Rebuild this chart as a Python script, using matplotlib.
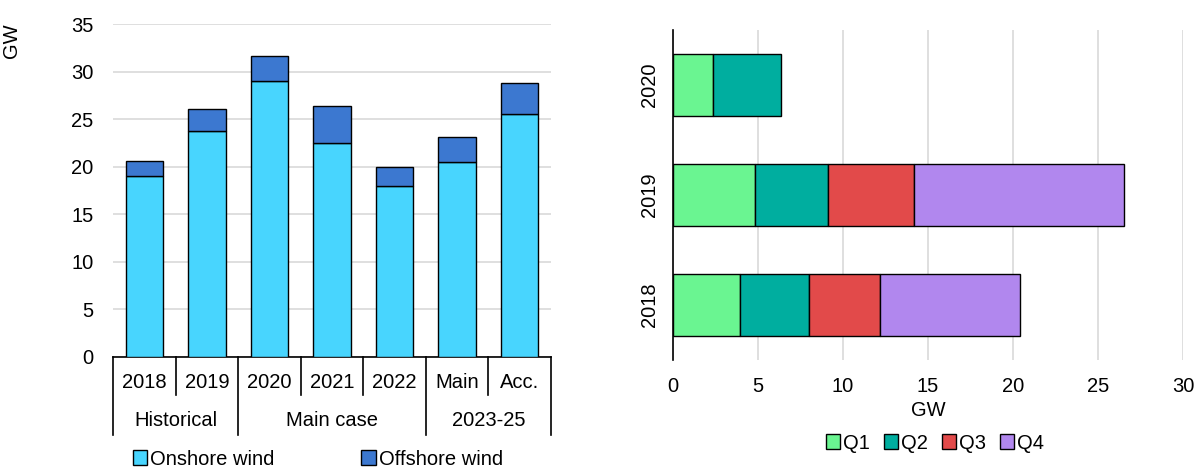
import matplotlib.pyplot as plt
import matplotlib.transforms as mtransforms
from matplotlib.patches import Patch

plt.rcParams['font.family'] = ['Liberation Sans', 'DejaVu Sans']
plt.rcParams['font.size'] = 14.5

# left chart data
categorias = ["2018", "2019", "2020", "2021", "2022", "Main", "Acc."]
grupos = ["Historical", "Main case", "2023-25"]
limites_grupos = [0, 2, 5, 7]
onshore = [19.0, 23.8, 29.0, 22.5, 18.0, 20.5, 25.5]
offshore = [1.6, 2.3, 2.6, 3.9, 2.0, 2.6, 3.3]

# right chart data
anios = ["2018", "2019", "2020"]
trimestres = ["Q1", "Q2", "Q3", "Q4"]
q1 = [3.95, 4.8, 2.35]
q2 = [4.05, 4.3, 4.0]
q3 = [4.2, 5.05, 0]
q4 = [8.2, 12.35, 0]

color_on = "#48D5FE"
color_off = "#3C78D0"
colores_q = ["#6AF591", "#00AE9F", "#E24A4A", "#B187EE"]
gris = "#D9D9D9"

fig = plt.figure(figsize=(11.96, 4.69), dpi=100)

# ---- left chart ----
ax1 = fig.add_axes([113 / 1196, 1 - 357 / 469, (551 - 113) / 1196, (357 - 24) / 469])
x = list(range(len(categorias)))
ax1.bar(x, onshore, width=0.6, color=color_on, edgecolor="black", linewidth=1, zorder=3)
ax1.bar(x, offshore, bottom=onshore, width=0.6, color=color_off, edgecolor="black", linewidth=1, zorder=3)
ax1.set_xlim(-0.5, len(categorias) - 0.5)
ax1.set_ylim(0, 35)
ax1.set_yticks(range(0, 36, 5))
ax1.yaxis.grid(True, color=gris, linewidth=1.2, zorder=0)
ax1.set_axisbelow(True)
for s in ["top", "right", "left"]:
    ax1.spines[s].set_visible(False)
ax1.spines["bottom"].set_linewidth(1.2)
ax1.tick_params(axis="y", length=0, pad=14)
ax1.set_xticks([])
ax1.set_ylabel("GW")
ax1.yaxis.set_label_coords(-0.21, 0.95)

trans = mtransforms.blended_transform_factory(ax1.transData, ax1.transAxes)
for i, c in enumerate(categorias):
    ax1.text(i, -0.078, c, transform=trans, ha="center", va="center")
for i in range(len(categorias) + 1):
    bajo = -0.234 if i in limites_grupos else -0.114
    ax1.plot([i - 0.5, i - 0.5], [0, bajo], transform=trans, color="black", linewidth=1.2, clip_on=False)
for g, a, b in zip(grupos, limites_grupos[:-1], limites_grupos[1:]):
    ax1.text((a + b) / 2 - 0.5, -0.192, g, transform=trans, ha="center", va="center")

fig.legend(handles=[Patch(facecolor=color_on, edgecolor="black", label="Onshore wind"),
                    Patch(facecolor=color_off, edgecolor="black", label="Offshore wind")],
           loc="center", bbox_to_anchor=(318 / 1196, 1 - 459 / 469), ncol=2, frameon=False,
           handlelength=0.7, handleheight=0.7, handletextpad=0.15, columnspacing=4.3)

# ---- right chart ----
ax2 = fig.add_axes([673 / 1196, 1 - 360 / 469, (1183 - 673) / 1196, (360 - 30) / 469])
y = list(range(len(anios)))
izq = [0] * len(anios)
for serie, col, nombre in zip([q1, q2, q3, q4], colores_q, trimestres):
    mask = [v > 0 for v in serie]
    ax2.barh([yy for yy, m in zip(y, mask) if m], [v for v, m in zip(serie, mask) if m],
             left=[l for l, m in zip(izq, mask) if m], height=0.57, color=col,
             edgecolor="black", linewidth=1, zorder=3, label=nombre)
    izq = [l + v for l, v in zip(izq, serie)]
ax2.set_xlim(0, 30)
ax2.set_ylim(-0.5, 2.5)
ax2.set_xticks(range(0, 31, 5))
ax2.set_yticks(y)
ax2.set_yticklabels(anios, rotation=90, va="center")
ax2.xaxis.grid(True, color=gris, linewidth=1.2, zorder=0)
ax2.set_axisbelow(True)
for s in ["top", "right", "bottom"]:
    ax2.spines[s].set_visible(False)
ax2.spines["left"].set_linewidth(1.2)
ax2.tick_params(axis="x", length=0, pad=12)
ax2.tick_params(axis="y", length=0, pad=10)
ax2.set_xlabel("GW", labelpad=4)

fig.legend(handles=[Patch(facecolor=c, edgecolor="black", label=t) for c, t in zip(colores_q, trimestres)],
           loc="center", bbox_to_anchor=(935 / 1196, 1 - 443 / 469), ncol=4, frameon=False,
           handlelength=0.7, handleheight=0.7, handletextpad=0.15, columnspacing=0.7)

fig.savefig("out.png", dpi=100)
